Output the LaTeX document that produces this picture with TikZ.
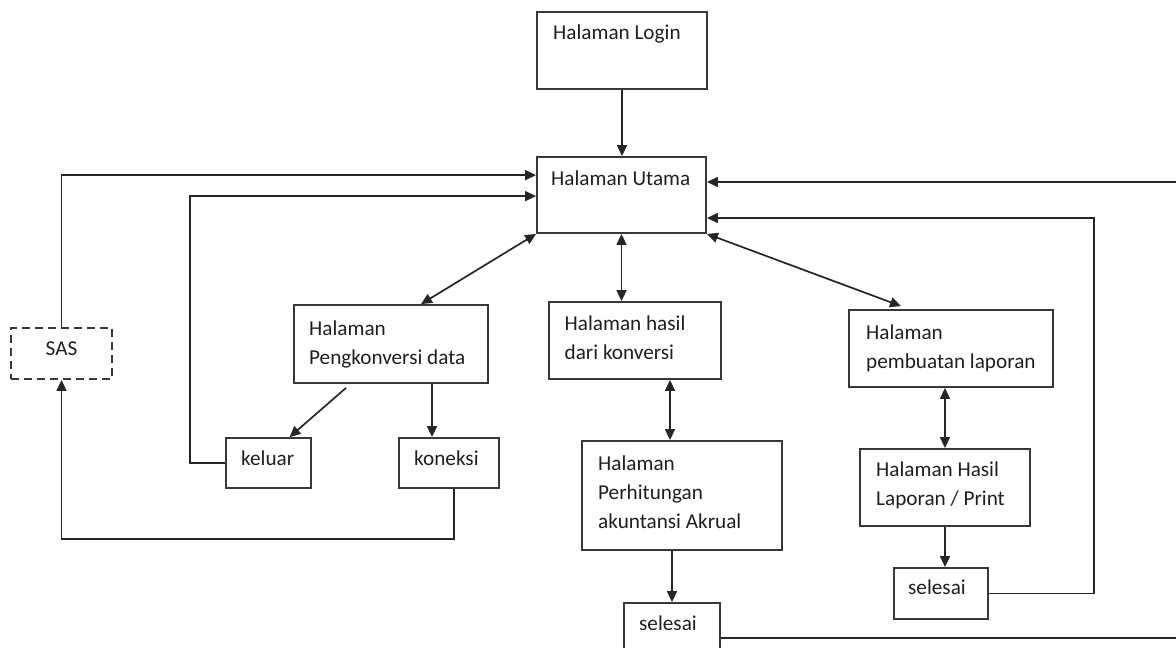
\documentclass[tikz,border=0pt]{standalone}
\usepackage{fontspec}
\setmainfont{Carlito}
\usetikzlibrary{arrows.meta,calc}
\begin{document}
\begin{tikzpicture}[x=1pt,y=-1pt,
  box/.style={draw=black!78, line width=1.8pt, rectangle, inner sep=0pt},
  dbox/.style={box, dash pattern=on 8pt off 5pt},
  txt/.style={inner sep=0pt, anchor=base west, align=left, font=\fontsize{21.2}{29}\selectfont, text=black!88},
  conn/.style={draw=black!85, line width=1.7pt},
  arr/.style={conn, -{Triangle[length=11pt,width=10pt]}},
  darr/.style={conn, {Triangle[length=11pt,width=10pt]}-{Triangle[length=11pt,width=10pt]}}
]
\useasboundingbox (0,0) rectangle (1176,648);
\clip (0,0) rectangle (1176,648);

% boxes
\node[box, minimum width=170pt, minimum height=77pt] (login) at (622,50.5) {};
\node[box, minimum width=169pt, minimum height=76pt] (utama) at (621.5,195) {};
\node[dbox, minimum width=101pt, minimum height=51pt] (sas) at (61.5,353.5) {};
\node[box, minimum width=194pt, minimum height=78pt] (pk) at (391,344) {};
\node[box, minimum width=85pt, minimum height=50pt] (keluar) at (268.5,463) {};
\node[box, minimum width=100pt, minimum height=50pt] (koneksi) at (449,463) {};
\node[box, minimum width=172pt, minimum height=77pt] (hk) at (635,340.5) {};
\node[box, minimum width=200pt, minimum height=109pt] (ph) at (682,495.5) {};
\node[box, minimum width=96pt, minimum height=70pt] (s1) at (672,638) {};
\node[box, minimum width=204pt, minimum height=77pt] (pl) at (951,348.5) {};
\node[box, minimum width=170pt, minimum height=77pt] (hl) at (945,487.5) {};
\node[box, minimum width=94pt, minimum height=51pt] (s2) at (941,593.5) {};

% texts (multi-line nodes are placed by the baseline of their last line)
\node[txt] (loginT) at (553,39.5) {Halaman Login};
\node[txt] (utamaT) at (551,185) {Halaman Utama};
\node[txt, anchor=base] (sasT) at (61.5,355) {SAS};
\node[txt] (pkT) at (309,364) {Halaman\\Pengkonversi data};
\node[txt] (keluarT) at (241,465) {keluar};
\node[txt] (koneksiT) at (414,465) {koneksi};
\node[txt] (hkT) at (564.5,359) {Halaman hasil\\dari konversi};
\node[txt] (phT) at (598,528) {Halaman\\Perhitungan\\akuntansi Akrual};
\node[txt] (s1T) at (639,630) {selesai};
\node[txt] (plT) at (866,368) {Halaman\\pembuatan laporan};
\node[txt] (hlT) at (876,505) {Halaman Hasil\\Laporan / Print};
\node[txt] (s2T) at (908,594) {selesai};

% connectors
\draw[arr] (login.south) -- (login.south |- utama.north);
\draw[arr] (sas.north) |- ($(utama.north west)+(0,19)$);
\draw[arr] (keluar.west) -- ++(-35,0) |- ($(utama.north west)+(0,40)$);
\draw[arr] ($(koneksi.south)+(5,0)$) -- ++(0,50) -| (sas.south);
\draw[darr] ($(pk.north)+(30,0)$) -- (utama.south west);
\draw[arr] ($(pk.south)+(-45,4)$) -- ($(keluar.north)+(21,0)$);
\coordinate (pkk) at ($(pk.south)+(41,0)$);
\draw[arr] (pkk) -- (pkk |- koneksi.north);
\draw[darr] (utama.south) -- (utama.south |- hk.north);
\coordinate (hkp) at ($(ph.north)+(-12,0)$);
\draw[darr] (hkp |- hk.south) -- (hkp);
\draw[arr] (s1.north |- ph.south) -- (s1.north);
\coordinate (offA) at (1180,638);
\draw[conn] (s1.east) -- (offA);
\draw[darr] (utama.south east) -- ($(pl.north)+(-50,-3)$);
\draw[darr] (hl.north |- pl.south) -- (hl.north);
\draw[arr] (hl.south) -- (hl.south |- s2.north);
\coordinate (rB) at ($(utama.east)+(387,23)$);
\draw[arr] (s2.east) -| (rB) -- (rB -| utama.east);
\coordinate (offB) at (1180,182);
\draw[arr] (offB) -- (offB -| utama.east);
\end{tikzpicture}
\end{document}
